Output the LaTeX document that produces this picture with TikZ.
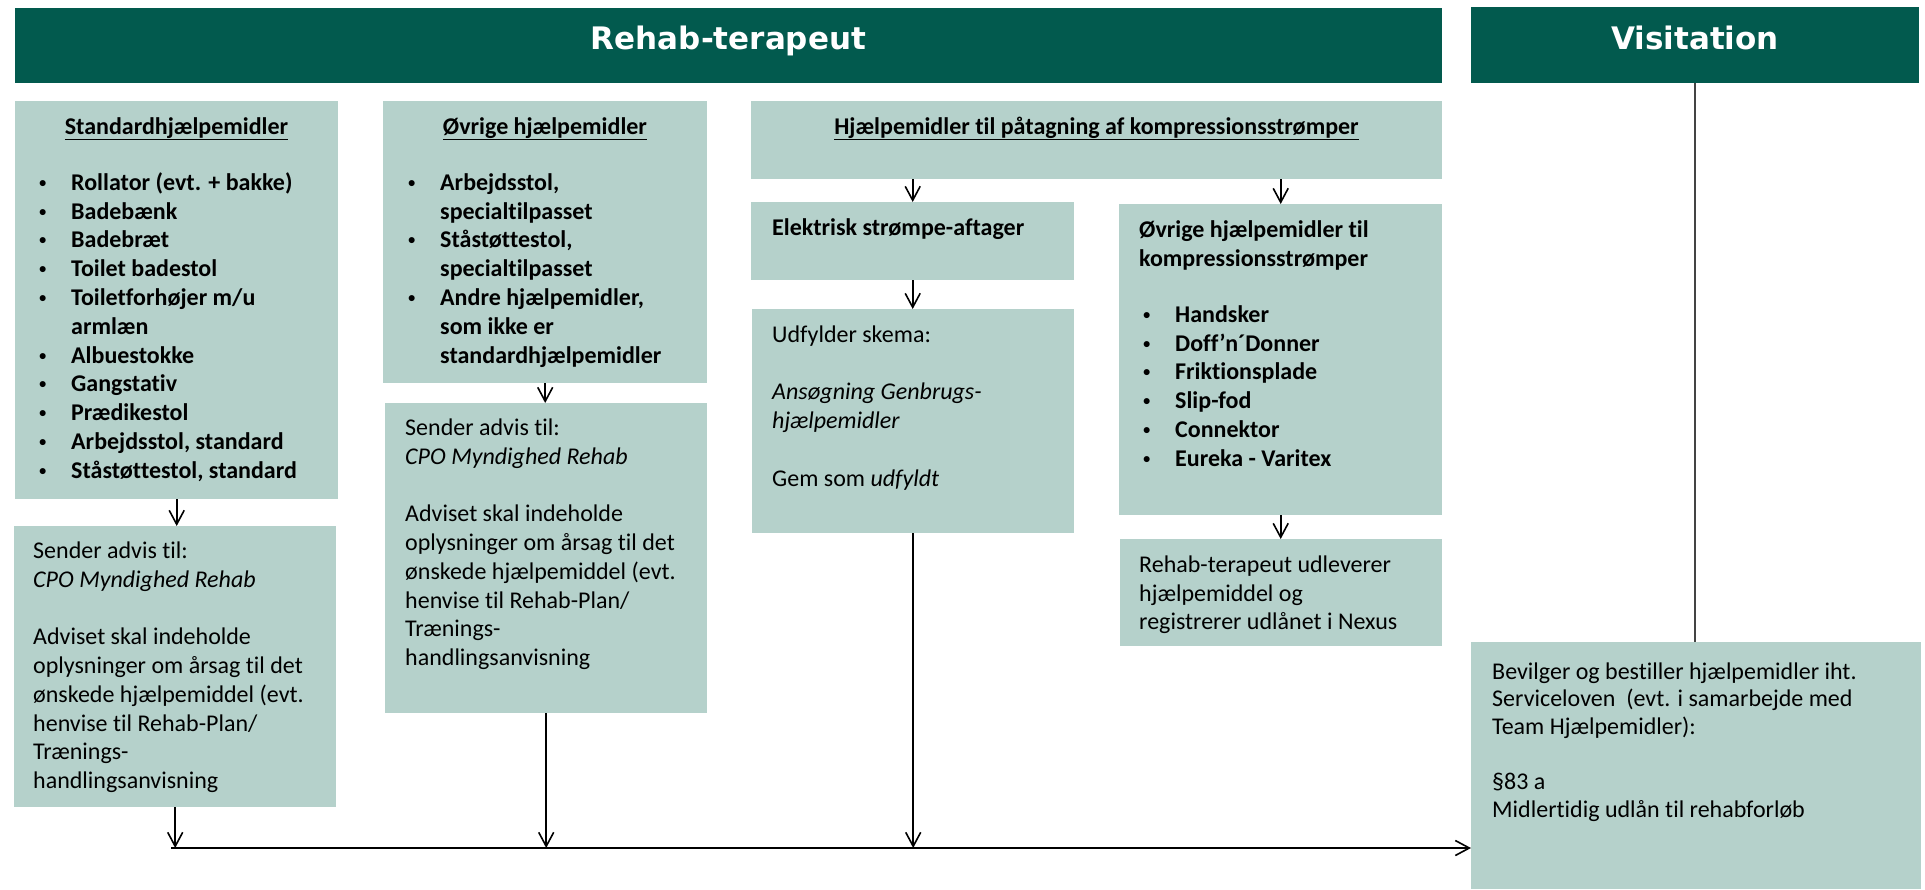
\documentclass[tikz,border=0pt]{standalone}
\usepackage{fontspec}
\setmainfont{Carlito}[Ligatures=NoCommon]
\newfontfamily\hdrfont{DejaVu Sans}
\newfontfamily\bulfont{Liberation Sans}
\usetikzlibrary{arrows.meta}
\definecolor{hdrc}{HTML}{025A4E}
\definecolor{boxc}{HTML}{B5D1CB}
\definecolor{vlinec}{HTML}{444444}
\newcommand\fl{\rule{0pt}{18pt}}
\newcommand\bul{\makebox[34pt][l]{\hspace*{2pt}\raisebox{0pt}{\bulfont\fontsize{21}{21}\selectfont •}}}
\newcommand\bulsp{\hspace*{34pt}}
\tikzset{
  hdr/.style={fill=hdrc, draw=none, inner sep=0pt, anchor=north west},
  box/.style={fill=boxc, draw=none, inner sep=0pt, anchor=north west},
  htitle/.style={text=white, font=\hdrfont\bfseries\fontsize{31}{36}\selectfont, anchor=base, inner sep=0pt},
  txt/.style={anchor=north west, inner sep=0pt, align=left, font=\fontsize{24}{28.8}\selectfont},
  btxt/.style={txt, font=\bfseries\fontsize{24}{28.8}\selectfont},
  ttl/.style={anchor=base, inner sep=0pt, font=\bfseries\fontsize{24}{28.8}\selectfont},
  arr/.style={line width=1.6pt, -{Straight Barb[length=14pt,width=15pt,line width=1.6pt]}},
}
\begin{document}
\begin{tikzpicture}[x=1pt,y=-1pt]
\useasboundingbox (0,0) rectangle (1925,889);
% headers
\node[hdr, minimum width=1427pt, minimum height=75pt] (rh) at (15,8) {};
\node[htitle] (rht) at (728.5,49) {Rehab-terapeut};
\node[hdr, minimum width=448pt, minimum height=76pt] (vh) at (1471,7) {};
\node[htitle] (vht) at (1695,49) {Visitation};
% boxes
\node[box, minimum width=323pt, minimum height=398pt] (std) at (15,101) {};
\node[box, minimum width=324pt, minimum height=282pt] (ovr) at (383,101) {};
\node[box, minimum width=322pt, minimum height=281pt] (snd1) at (14,526) {};
\node[box, minimum width=322pt, minimum height=310pt] (snd2) at (385,403) {};
\node[box, minimum width=691pt, minimum height=78pt] (kmp) at (751,101) {};
\node[box, minimum width=323pt, minimum height=78pt] (elk) at (751,202) {};
\node[box, minimum width=322pt, minimum height=224pt] (udf) at (752,309) {};
\node[box, minimum width=323pt, minimum height=311pt] (okp) at (1119,204) {};
\node[box, minimum width=322pt, minimum height=107pt] (udl) at (1120,539) {};
\node[box, minimum width=450pt, minimum height=247pt] (bev) at (1471,642) {};
% titles
\node[ttl] (stdt) at (176.5,134) {\underline{Standardhjælpemidler}};
\node[ttl] (ovrt) at (545,134) {\underline{Øvrige hjælpemidler}};
\node[ttl] (kmpt) at (1096.5,134) {\underline{Hjælpemidler til påtagning af kompressionsstrømper}};
% lists
\node[btxt] (stdl) at (37,172) {\fl\bul Rollator (evt. + bakke)\\
\bul Badebænk\\
\bul Badebræt\\
\bul Toilet badestol\\
\bul Toiletforhøjer m/u\\
\bulsp armlæn\\
\bul Albuestokke\\
\bul Gangstativ\\
\bul Prædikestol\\
\bul Arbejdsstol, standard\\
\bul Ståstøttestol, standard};
\node[btxt] (ovrl) at (406,172) {\fl\bul Arbejdsstol,\\
\bulsp specialtilpasset\\
\bul Ståstøttestol,\\
\bulsp specialtilpasset\\
\bul Andre hjælpemidler,\\
\bulsp som ikke er\\
\bulsp standardhjælpemidler};
\node[txt] (snd2t) at (405,417) {\fl Sender advis til:\\
\textit{CPO Myndighed Rehab}\\[28.8pt]
Adviset skal indeholde\\
oplysninger om årsag til det\\
ønskede hjælpemiddel (evt.\\
henvise til Rehab-Plan/\\
Trænings-\\
handlingsanvisning};
\node[txt] (snd1t) at (33,540) {\fl Sender advis til:\\
\textit{CPO Myndighed Rehab}\\[28.8pt]
Adviset skal indeholde\\
oplysninger om årsag til det\\
ønskede hjælpemiddel (evt.\\
henvise til Rehab-Plan/\\
Trænings-\\
handlingsanvisning};
\node[btxt] (elkt) at (772,217) {\fl Elektrisk strømpe-aftager};
\node[txt] (udft) at (772,324) {\fl Udfylder skema:\\[28.8pt]
\textit{Ansøgning Genbrugs-}\\
\textit{hjælpemidler}\\[28.8pt]
Gem som \textit{udfyldt}};
\node[btxt] (okpt) at (1139,219) {\fl Øvrige hjælpemidler til\\
kompressionsstrømper};
\node[btxt] (okpl) at (1141,304) {\fl\bul Handsker\\
\bul Doff’n´Donner\\
\bul Friktionsplade\\
\bul Slip-fod\\
\bul Connektor\\
\bul Eureka - Varitex};
\node[txt] (udlt) at (1139,554) {\fl Rehab-terapeut udleverer\\
hjælpemiddel og\\
registrerer udlånet i Nexus};
\node[txt, font=\fontsize{24}{27.6}\selectfont] (bevt) at (1492,661) {\fl Bevilger og bestiller hjælpemidler iht.\\
Serviceloven\ \ (evt. i samarbejde med\\
Team Hjælpemidler):\\[27.6pt]
§83 a\\
Midlertidig udlån til rehabforløb};
% connectors
\draw[arr] (std.south) -- (std.south |- snd1.north);
\draw[arr] (ovr.south) -- (ovr.south |- snd2.north);
\draw[arr] (elk.north |- kmp.south) -- (elk.north);
\draw[arr] (okp.north |- kmp.south) -- (okp.north);
\draw[arr] (elk.south) -- (elk.south |- udf.north);
\draw[arr] (okp.south) -- (okp.south |- udl.north);
\coordinate (L) at (171,848);
\draw[arr, line width=2pt] (L) -- (bev.west |- L);
\draw[arr] (snd1.south) -- (snd1.south |- L);
\draw[arr] (snd2.south) -- (snd2.south |- L);
\draw[arr] (udf.south) -- (udf.south |- L);
\draw[vlinec, line width=1.6pt] (vh.south) -- (vh.south |- bev.north);
\end{tikzpicture}
\end{document}
